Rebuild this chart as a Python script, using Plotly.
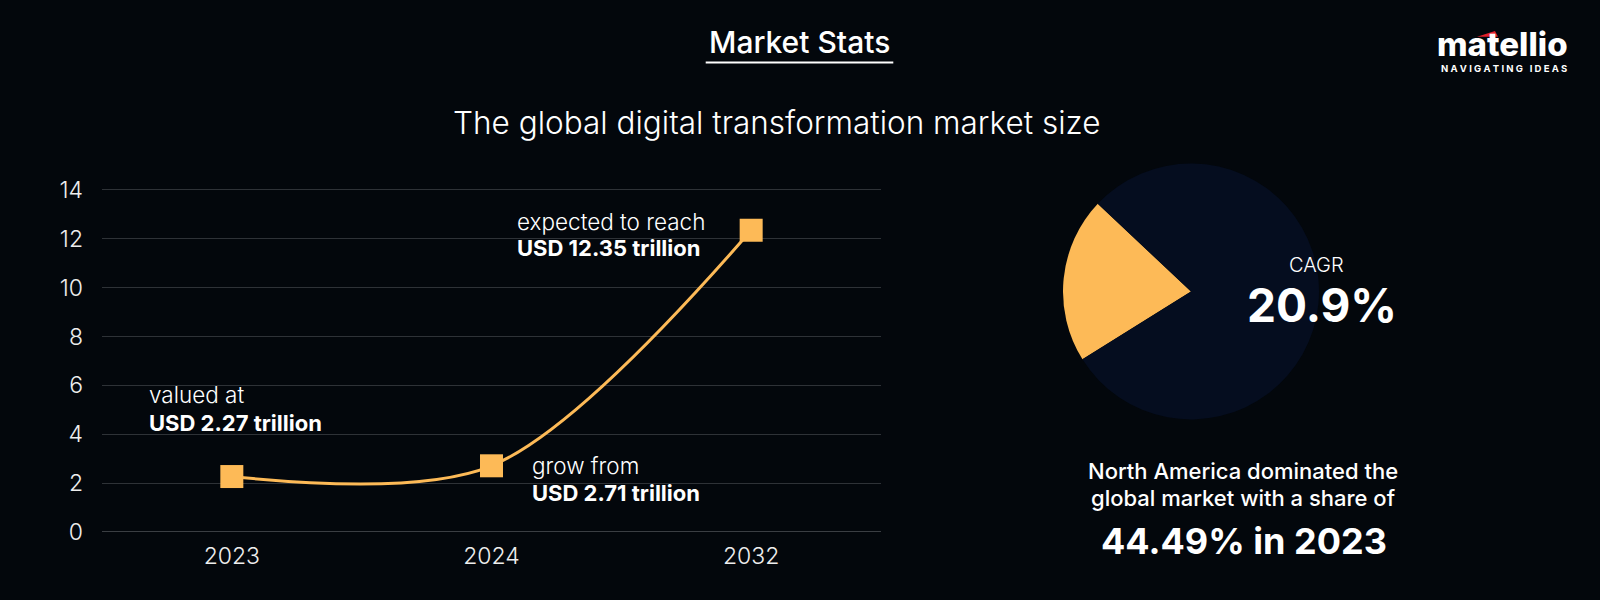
import plotly.graph_objects as go

# ---------------- data ----------------
years = ["2023", "2024", "2032"]
market_size = [2.27, 2.71, 12.35]
y_tick_values = [0, 2, 4, 6, 8, 10, 12, 14]

pie_labels = ["CAGR", "Rest"]
pie_values = [20.9, 79.1]

title_text = "Market Stats"
subtitle_text = "The global digital transformation market size"
point_intro = ["valued at", "grow from", "expected to reach"]
point_value = ["USD 2.27 trillion", "USD 2.71 trillion", "USD 12.35 trillion"]
cagr_label = "CAGR"
cagr_value = "20.9%"
share_lines = ["North America dominated the", "global market with a share of"]
share_value = "44.49% in 2023"
logo_main = "matellio"
logo_sub = "NAVIGATING IDEAS"

# ---------------- style ----------------
W, H = 1600, 600
BG = "#03070c"
ORANGE = "#fdba57"
NAVY = "#050d1f"
GRID = "#2e3237"
WHITE = "#ffffff"
FONT = "Inter"


def px(x):
    return x / W


def py(y):
    return 1 - y / H


fig = go.Figure()

fig.add_trace(go.Scatter(
    x=years, y=market_size, mode="lines+markers",
    line=dict(color=ORANGE, width=3, shape="spline", smoothing=0.9),
    marker=dict(symbol="square", size=23, color=ORANGE),
    hoverinfo="skip", showlegend=False,
))

fig.add_trace(go.Pie(
    labels=pie_labels, values=pie_values, sort=False, direction="clockwise",
    rotation=238, marker=dict(colors=[ORANGE, NAVY], line=dict(width=0)),
    textinfo="none", hoverinfo="skip", showlegend=False,
    domain=dict(x=[px(1191 - 128), px(1191 + 128)], y=[py(291.5 + 128), py(291.5 - 128)]),
))

unit = (532 - 190) / 14.0
pad = 0.15
fig.update_xaxes(
    type="category", range=[-0.5, 2.5], domain=[px(102), px(881)], automargin=False,
    showgrid=False, zeroline=False, showline=False, ticks="",
    tickfont=dict(family=FONT, size=23, color="#eeeeee", weight=300), ticklabelstandoff=4,
)
fig.update_yaxes(
    range=[-pad, 14 + pad], domain=[py(532 + pad * unit), py(190 - pad * unit)], automargin=False,
    tickvals=y_tick_values, showgrid=True, gridcolor=GRID, gridwidth=1.3,
    zeroline=True, zerolinecolor="#3a3e43", zerolinewidth=1.3, showline=False, ticks="",
    tickfont=dict(family=FONT, size=23, color="#eeeeee", weight=300), ticklabelstandoff=18,
)

ann = []


def text(t, x, y, size, weight=400, xanchor="left", color=WHITE, family=FONT):
    ann.append(dict(text=t, x=px(x), y=py(y), xref="paper", yref="paper",
                    xanchor=xanchor, yanchor="middle", showarrow=False,
                    font=dict(family=family, size=size, color=color, weight=weight)))


# title + underline
text(title_text, 799, 42.5, 30, 500, "center")
# subtitle
text(subtitle_text, 776.5, 123, 31.5, 300, "center")

# point labels
intro_pos = [(146.7, 394), (530, 465), (515, 221)]
value_pos = [(146.7, 422.5), (530, 492.5), (515, 247.7)]
for t, (x, y) in zip(point_intro, intro_pos):
    text(t, x, y, 22.5, 300)
for t, (x, y) in zip(point_value, value_pos):
    text(t, x, y, 22, 700)

# CAGR
text(cagr_label, 1316.7, 265, 20, 300, "center")
text(cagr_value, 1321.7, 305, 46, 700, "center")

# share
text(share_lines[0], 1243, 471, 22, 500, "center")
text(share_lines[1], 1243, 498, 22, 500, "center")
text(share_value, 1243.5, 541, 36, 700, "center")

# logo
text(logo_main, 1502, 44, 33, 800, "center")
text(" ".join(list(logo_sub)), 1504, 68.5, 9.5, 700, "center")

shapes = [
    dict(type="line", xref="paper", yref="paper", x0=px(705.7), x1=px(893.3),
         y0=py(62.5), y1=py(62.5), line=dict(color=WHITE, width=2)),
    dict(type="path", xref="paper", yref="paper",
         path=f"M {px(1477)} {py(36.7)} L {px(1495)} {py(31)} L {px(1498)} {py(36.7)} Z",
         fillcolor="#e3212b", line=dict(width=0)),
]

fig.update_layout(
    template="none",
    width=W, height=H, margin=dict(l=0, r=0, t=0, b=0, pad=0),
    paper_bgcolor=BG, plot_bgcolor=BG,
    annotations=ann, shapes=shapes, showlegend=False,
)

fig.write_html("out.html", config={"displayModeBar": False})
